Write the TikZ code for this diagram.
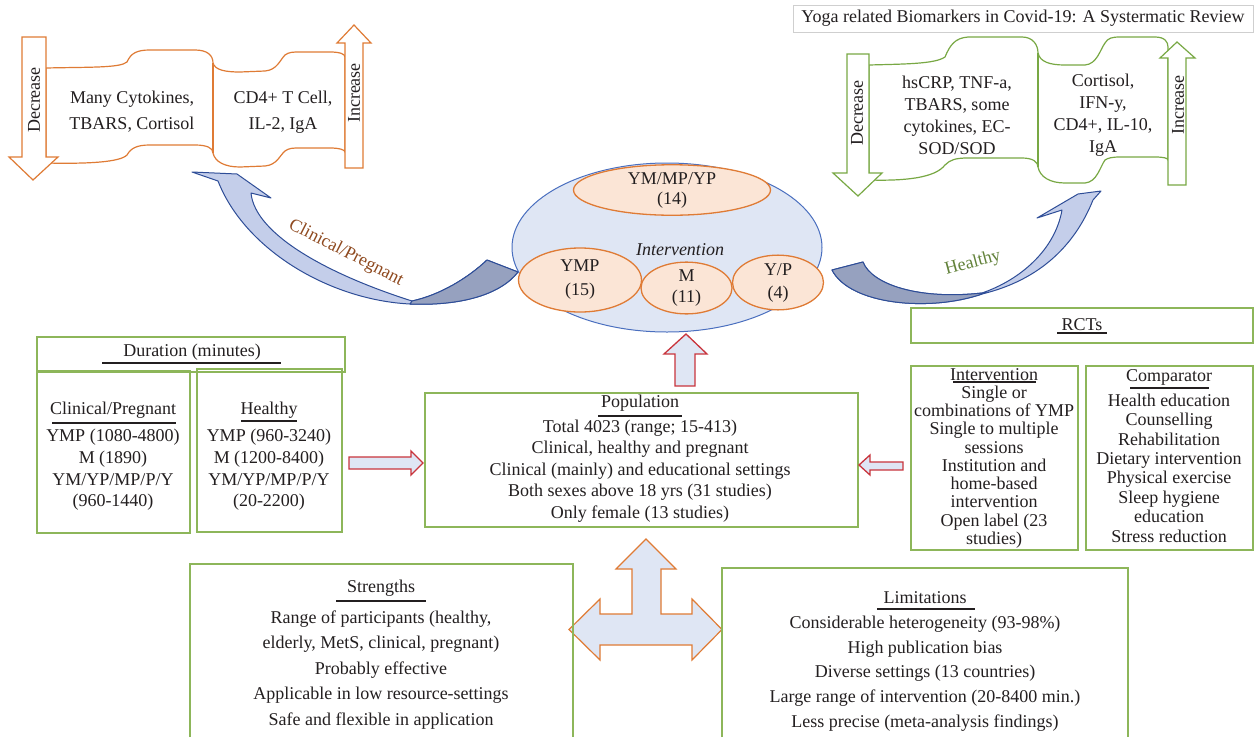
\documentclass[tikz,border=0pt]{standalone}
\usepackage{fontspec}
\setmainfont{Liberation Serif}
\usetikzlibrary{shapes.geometric}
\definecolor{ink}{HTML}{231F20}
\definecolor{orng}{HTML}{DF7B35}
\definecolor{orfill}{HTML}{FBE5D6}
\definecolor{grn}{HTML}{8DB65A}
\definecolor{bgrn}{HTML}{78A844}
\definecolor{blu}{HTML}{4A6FBF}
\definecolor{blfill}{HTML}{DFE6F4}
\definecolor{arrlight}{HTML}{C4CEEA}
\definecolor{arrdark}{HTML}{96A1BF}
\definecolor{arredge}{HTML}{2E4D97}
\definecolor{redb}{HTML}{C9353D}
\definecolor{brn}{HTML}{8F4A20}
\definecolor{olv}{HTML}{62823A}
\definecolor{gry}{HTML}{CFCFCF}
\begin{document}
\begin{tikzpicture}[x=1pt,y=-1pt,
  every node/.style={inner sep=0pt, outer sep=0pt, text=ink},
  txt/.style={font=\fontsize{18}{21.5}\selectfont, align=center},
  gbox/.style={draw=grn, line width=1.2pt, anchor=north west},
  uline/.style={draw=ink, line width=1.5pt},
  oarr/.style={draw=orng, fill=white, line width=1.2pt, line join=miter},
  garr/.style={draw=bgrn, fill=white, line width=1.2pt, line join=miter},
  rarr/.style={draw=redb, fill=blfill, line width=1.3pt, line join=miter},
  oell/.style={ellipse, draw=orng, fill=orfill, line width=1.3pt, txt},
  carr/.style={draw=arredge, line width=1pt, line join=round}
]
\useasboundingbox (0,0) rectangle (1254,737);
\fill[white] (0,0) rectangle (1254,737);

% ---------- title ----------
\node[draw=gry, line width=1pt, anchor=north west, minimum width=460pt, minimum height=27pt] (title) at (793,5) {};
\node[txt] (titletxt) at (1023,18) {Yoga related Biomarkers in Covid-19: A Systermatic Review};

% ---------- left (orange) banner ----------
\filldraw[draw=orng, fill=white, line width=1.2pt]
 (46,68) .. controls (90,67) and (120,68) .. (127,62) .. controls (131,53) and (137,50) .. (150,50) -- (195,50) .. controls (207,50) and (213,55) .. (213,63)
 .. controls (215,70) and (225,72) .. (240,72) -- (265,71) .. controls (277,70) and (280,60) .. (285,55) .. controls (289,52) and (293,52) .. (300,52) -- (330,52) .. controls (340,52) and (345,54) .. (345,57)
 -- (345,152)
 .. controls (345,150) and (340,148) .. (330,148) -- (300,148) .. controls (293,148) and (289,148) .. (285,151) .. controls (280,155) and (277,165) .. (265,166) -- (240,167) .. controls (225,167) and (215,162) .. (213,153)
 .. controls (213,148) and (207,145) .. (195,145) -- (150,145) .. controls (137,145) and (131,148) .. (127,155) .. controls (120,162) and (90,164) .. (46,163) -- cycle;
\draw[draw=orng, line width=1.2pt] (213,63) -- (213,153);
\draw[oarr] (22,37) -- (46,37) -- (46,157) -- (58,157) -- (33,180) -- (9,157) -- (22,157) -- cycle;
\draw[oarr] (345,168) -- (345,43) -- (337,43) -- (354,25) -- (371,43) -- (363,43) -- (363,168) -- cycle;
\node[txt, rotate=90] (odec) at (34,100) {Decrease};
\node[txt, rotate=90] (oinc) at (354,93) {Increase};
\node[txt, font=\fontsize{18}{26}\selectfont] (odtxt) at (132,112) {Many Cytokines,\\TBARS, Cortisol};
\node[txt, font=\fontsize{18}{26}\selectfont] (oitxt) at (283,112) {CD4+ T Cell,\\IL-2, IgA};

% ---------- right (green) banner ----------
\filldraw[draw=bgrn, fill=white, line width=1.2pt]
 (869,65) .. controls (905,64) and (935,64) .. (945,57) .. controls (950,45) and (955,38) .. (968,37) -- (1022,37) .. controls (1033,37) and (1038,45) .. (1038,53)
 .. controls (1040,62) and (1050,65) .. (1065,65) -- (1085,65) .. controls (1097,64) and (1100,50) .. (1105,43) .. controls (1108,38) and (1112,37) .. (1120,37) -- (1155,37) .. controls (1165,37) and (1168,42) .. (1168,47)
 -- (1168,160)
 .. controls (1168,158) and (1163,157) .. (1155,157) -- (1120,157) .. controls (1112,157) and (1108,158) .. (1105,160) .. controls (1100,167) and (1097,182) .. (1085,183) -- (1065,183) .. controls (1050,183) and (1040,177) .. (1038,167)
 .. controls (1038,162) and (1033,158) .. (1022,158) -- (968,158) .. controls (955,158) and (950,160) .. (945,165) .. controls (935,178) and (905,181) .. (869,180) -- cycle;
\draw[draw=bgrn, line width=1.2pt] (1038,53) -- (1038,167);
\draw[garr] (847,54) -- (869,54) -- (869,173) -- (882,173) -- (858,196) -- (833,173) -- (847,173) -- cycle;
\draw[garr] (1168,185) -- (1168,58) -- (1160,58) -- (1177,42) -- (1195,58) -- (1186,58) -- (1186,185) -- cycle;
\node[txt, rotate=90] (gdec) at (857,113) {Decrease};
\node[txt, rotate=90] (ginc) at (1178,105) {Increase};
\node[txt, font=\fontsize{18}{22}\selectfont] (gdtxt) at (957,115) {hsCRP, TNF-a,\\TBARS, some\\cytokines, EC-\\SOD/SOD};
\node[txt, font=\fontsize{18}{22}\selectfont] (gitxt) at (1103,115) {Cortisol,\\IFN-y,\\CD4+, IL-10,\\IgA};

% ---------- curved arrows ----------
% left (Clinical/Pregnant)
\filldraw[carr, fill=arrlight]
 (192,172) -- (237,174) -- (271,198) -- (251,193)
 .. controls (255,235) and (330,275) .. (412,301)
 .. controls (440,295) and (468,278) .. (487,260) -- (518,272)
 .. controls (500,295) and (460,306) .. (410,304)
 .. controls (330,300) and (245,250) .. (218,181) -- cycle;
\filldraw[carr, fill=arrdark]
 (412,301) .. controls (440,295) and (468,278) .. (487,260) -- (518,272)
 .. controls (500,295) and (460,306) .. (410,304) -- cycle;
\node[txt, text=brn, rotate=-27] (lblcp) at (346,253) {Clinical/Pregnant};
% right (Healthy)
\filldraw[carr, fill=arrlight]
 (863,262) .. controls (872,285) and (920,300) .. (982,293)
 .. controls (1020,280) and (1055,250) .. (1062,210) -- (1037,218) -- (1078,194) -- (1101,191) -- (1093,200)
 .. controls (1075,245) and (1040,280) .. (982,294)
 .. controls (930,312) and (850,305) .. (832,270) -- cycle;
\filldraw[carr, fill=arrdark]
 (863,262) .. controls (872,285) and (920,300) .. (982,293) -- (982,294)
 .. controls (930,312) and (850,305) .. (832,270) -- cycle;
\node[txt, text=olv, rotate=15] (lblh) at (973,263) {Healthy};

% ---------- intervention ellipse ----------
\node[ellipse, draw=blu, fill=blfill, line width=1pt, minimum width=310pt, minimum height=169pt] (cen) at (667,247.5) {};
\node[txt, font=\fontsize{18}{21.5}\selectfont\itshape] (centxt) at (680,250) {Intervention};
\node[oell, minimum width=197pt, minimum height=44pt, font=\fontsize{18}{20}\selectfont] (e14) at (672,190) {YM/MP/YP\\(14)};
\node[oell, minimum width=123pt, minimum height=64pt, font=\fontsize{18}{24}\selectfont] (e15) at (580,280) {YMP\\(15)};
\node[oell, minimum width=91pt, minimum height=50pt, font=\fontsize{18}{21}\selectfont] (e11) at (686.5,288) {M\\(11)};
\node[oell, minimum width=91pt, minimum height=49pt, font=\fontsize{18}{23}\selectfont] (e4) at (778,282.5) {Y/P\\(4)};

% ---------- duration ----------
\node[gbox, minimum width=308pt, minimum height=35pt] (durh) at (37,337) {};
\node[txt] (durhtxt) at (192,352) {Duration (minutes)};
\draw[uline] (102,363) -- (281,363);
\node[gbox, minimum width=153pt, minimum height=162pt] (dcl) at (37,371) {};
\node[gbox, minimum width=145pt, minimum height=163pt] (dhe) at (197,369) {};
\node[txt] (dclh) at (113,410) {Clinical/Pregnant};
\draw[uline] (52,423) -- (176,423);
\node[txt, font=\fontsize{18}{21.7}\selectfont] (dcltxt) at (113,470) {YMP (1080-4800)\\M (1890)\\YM/YP/MP/P/Y\\(960-1440)};
\node[txt] (dheh) at (269,410) {Healthy};
\draw[uline] (241,421) -- (297,421);
\node[txt, font=\fontsize{18}{21.7}\selectfont] (dhetxt) at (269,470) {YMP (960-3240)\\M (1200-8400)\\YM/YP/MP/P/Y\\(20-2200)};

% ---------- population ----------
\node[gbox, minimum width=433pt, minimum height=134pt] (pop) at (425,393) {};
\node[txt] (poph) at (640,403) {Population};
\draw[uline] (598,416) -- (682,416);
\node[txt] (poptxt) at (640,471) {Total 4023 (range; 15-413)\\Clinical, healthy and pregnant\\Clinical (mainly) and educational settings\\Both sexes above 18 yrs (31 studies)\\Only female (13 studies)};

% ---------- RCTs ----------
\node[gbox, minimum width=342pt, minimum height=35pt] (rct) at (911,308) {};
\node[txt] (rcttxt) at (1082,325) {RCTs};
\draw[uline] (1057,333) -- (1107,333);
\node[gbox, minimum width=167pt, minimum height=184pt] (intv) at (911,366) {};
\node[txt] (intvh) at (994,375) {Intervention};
\draw[uline] (953,382) -- (1036,382);
\node[txt, font=\fontsize{18}{18.25}\selectfont] (intvtxt) at (994,467) {Single or\\combinations of YMP\\Single to multiple\\sessions\\Institution and\\home-based\\intervention\\Open label (23\\studies)};
\node[gbox, minimum width=167pt, minimum height=184pt] (comp) at (1086,366) {};
\node[txt] (comph) at (1169,377) {Comparator};
\draw[uline] (1130,388) -- (1209,388);
\node[txt, font=\fontsize{18}{19.4}\selectfont] (comptxt) at (1169,468) {Health education\\Counselling\\Rehabilitation\\Dietary intervention\\Physical exercise\\Sleep hygiene\\education\\Stress reduction};

% ---------- block arrows ----------
\draw[rarr] (349,457) -- (411,457) -- (411,451) -- (423,463) -- (411,475) -- (411,469) -- (349,469) -- cycle;
\draw[rarr] (903,462) -- (870,462) -- (870,455) -- (859,465) -- (870,475) -- (870,470) -- (903,470) -- cycle;
\draw[rarr] (675,386) -- (675,354) -- (664,354) -- (686,334) -- (707,354) -- (695,354) -- (695,386) -- cycle;
\draw[draw=orng, fill=blfill, line width=1.2pt, line join=miter]
 (646,539) -- (676,569) -- (661,569) -- (661,614) -- (692,614) -- (692,599) -- (722,629.5) -- (692,660) -- (692,645)
 -- (600,645) -- (600,660) -- (569,629.5) -- (600,599) -- (600,614) -- (632,614) -- (632,569) -- (616,569) -- cycle;

% ---------- strengths / limitations ----------
\coordinate (strbl) at (190,737);
\coordinate (strbr) at (573,737);
\draw[draw=grn, line width=1.2pt] (strbl) |- (573,564) -- (strbr);
\node[txt] (strh) at (381,588) {Strengths};
\draw[uline] (336,601) -- (426,601);
\node[txt, font=\fontsize{18}{25.5}\selectfont] (strtxt) at (381,670) {Range of participants (healthy,\\elderly, MetS, clinical, pregnant)\\Probably effective\\Applicable in low resource-settings\\Safe and flexible in application};
\coordinate (limbl) at (722,737);
\coordinate (limbr) at (1128,737);
\draw[draw=grn, line width=1.2pt] (limbl) |- (1128,568) -- (limbr);
\node[txt] (limh) at (925,598) {Limitations};
\draw[uline] (877,609) -- (975,609);
\node[txt, font=\fontsize{18}{24.75}\selectfont] (limtxt) at (925,673.5) {Considerable heterogeneity (93-98\%)\\High publication bias\\Diverse settings (13 countries)\\Large range of intervention (20-8400 min.)\\Less precise (meta-analysis findings)};
\end{tikzpicture}
\end{document}
